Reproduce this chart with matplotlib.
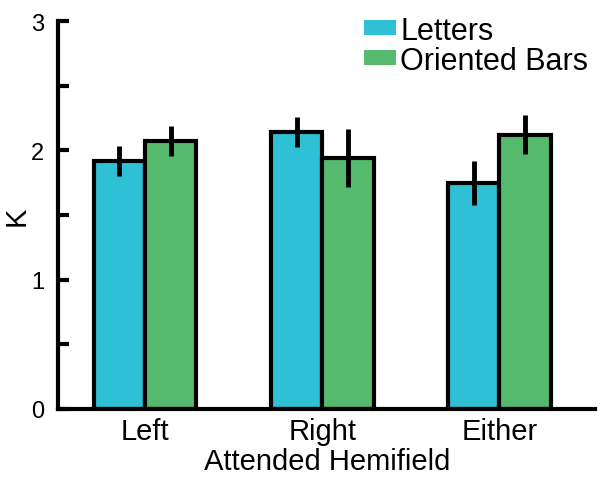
import numpy as np
import matplotlib
matplotlib.use('Agg')
import matplotlib.pyplot as plt
from matplotlib.patches import Patch

plt.rcParams['font.family'] = ['Liberation Sans', 'DejaVu Sans']

# Data
conditions = ['Left', 'Right', 'Either']
letters = [1.92, 2.14, 1.75]
letters_err = [0.115, 0.115, 0.17]
bars = [2.07, 1.94, 2.12]
bars_err = [0.115, 0.225, 0.15]

cyan = '#30C0D6'
green = '#55BA6E'

fig = plt.figure(figsize=(6, 4.81), dpi=100)
ax = fig.add_axes([0.097, 0.148, 0.895, 0.806])

x = np.arange(len(conditions))
w = 0.29

ax.bar(x - w / 2, letters, w, color=cyan, edgecolor='black', linewidth=3, zorder=2)
ax.bar(x + w / 2, bars, w, color=green, edgecolor='black', linewidth=3, zorder=2)
ax.errorbar(x - w / 2, letters, yerr=letters_err, fmt='none', ecolor='black',
            elinewidth=3.5, capsize=0, zorder=3)
ax.errorbar(x + w / 2, bars, yerr=bars_err, fmt='none', ecolor='black',
            elinewidth=3.5, capsize=0, zorder=3)

ax.set_xlim(-0.49, 2.54)
ax.set_ylim(0, 3)
ax.set_yticks([0, 1, 2, 3])
ax.set_yticks([0.5, 1.5, 2.5], minor=True)
ax.set_xticks(x)
ax.set_xticklabels(conditions)

for s in ['top', 'right']:
    ax.spines[s].set_visible(False)
for s in ['left', 'bottom']:
    ax.spines[s].set_linewidth(3)
ax.spines['left'].set_bounds(0, 3)

ax.tick_params(axis='y', which='major', direction='in', length=8, width=3,
               labelsize=17, pad=10)
ax.tick_params(axis='y', which='minor', direction='in', length=8, width=3)
ax.tick_params(axis='x', length=0, labelsize=21, pad=6)

ax.set_ylabel('K', fontsize=21)
ax.yaxis.set_label_coords(-0.052, 0.5)
ax.set_xlabel('Attended Hemifield', fontsize=21, labelpad=1)

handles = [Patch(facecolor=cyan, edgecolor='none', label='Letters'),
           Patch(facecolor=green, edgecolor='none', label='Oriented Bars')]
ax.legend(handles=handles, loc='upper right', bbox_to_anchor=(1.01, 1.045),
          frameon=False, fontsize=22, handlelength=1.05, handleheight=0.38,
          handletextpad=0.15, labelspacing=0.0, borderaxespad=0)

fig.savefig('out.png', dpi=100)
